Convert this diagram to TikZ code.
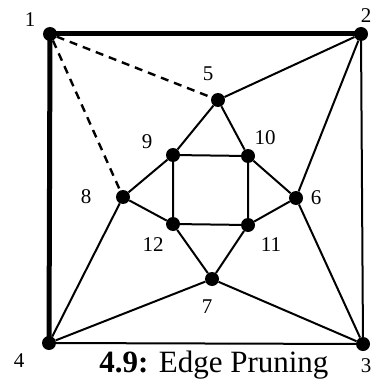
\documentclass[tikz,border=0pt]{standalone}
\usepackage{fontspec}
\setmainfont{Liberation Serif}
\usepackage{tikz}
\usetikzlibrary{positioning}

\begin{document}
\begin{tikzpicture}[x=1pt, y=-1pt,
  vtx/.style={circle, fill=black, inner sep=0pt, minimum size=14pt},
  num/.style={font=\fontsize{21}{23}\selectfont, inner sep=0pt},
  edge/.style={line width=2pt},
  outer/.style={line width=5pt, line cap=round},
  pruned/.style={line width=2.4pt, dash pattern=on 8pt off 6pt}]
\useasboundingbox (0,0) rectangle (372,385);
% vertices
\node[vtx] (v1) at (50,34) {};
\node[vtx] (v2) at (361,34) {};
\node[vtx] (v3) at (363,344) {};
\node[vtx] (v4) at (49,343) {};
\node[vtx] (v5) at (218,100) {};
\node[vtx] (v6) at (296,198) {};
\node[vtx] (v7) at (212,279) {};
\node[vtx] (v8) at (123,197) {};
\node[vtx] (v9) at (173,155) {};
\node[vtx] (v10) at (248,156) {};
\node[vtx] (v11) at (248,225) {};
\node[vtx] (v12) at (173,224) {};
% labels
\node[num] (l1) at (30,20) {1};
\node[num] (l2) at (366,16) {2};
\node[num] (l3) at (366,366) {3};
\node[num] (l4) at (19,361) {4};
\node[num] (l5) at (208,74) {5};
\node[num] (l6) at (316,198) {6};
\node[num] (l7) at (207,307) {7};
\node[num] (l8) at (86,197) {8};
\node[num] (l9) at (147,142) {9};
\node[num] (l10) at (265,138) {10};
\node[num] (l11) at (271,245) {11};
\node[num] (l12) at (153,245) {12};
% edges
\draw[outer] (v1.center) -- (v2.center);
\draw[outer] (v1.center) -- (v4.center);
\draw[edge] (v2) -- (v3) -- (v4);
\draw[pruned] (v1) -- (v5);
\draw[pruned] (v1) -- (v8);
\draw[edge] (v2) -- (v5);
\draw[edge] (v2) -- (v6);
\draw[edge] (v5) -- (v9);
\draw[edge] (v5) -- (v10);
\draw[edge] (v9) -- (v10) -- (v11) -- (v12) -- (v9);
\draw[edge] (v8) -- (v9);
\draw[edge] (v8) -- (v12);
\draw[edge] (v10) -- (v6);
\draw[edge] (v6) -- (v11);
\draw[edge] (v12) -- (v7);
\draw[edge] (v11) -- (v7);
\draw[edge] (v8) -- (v4);
\draw[edge] (v7) -- (v4);
\draw[edge] (v6) -- (v3);
\draw[edge] (v7) -- (v3);
% caption
\node[anchor=base, inner sep=0pt, font=\fontsize{31}{34}\selectfont] (cap) at (214,372) {\textbf{4.9:} Edge Pruning};
\end{tikzpicture}
\end{document}
